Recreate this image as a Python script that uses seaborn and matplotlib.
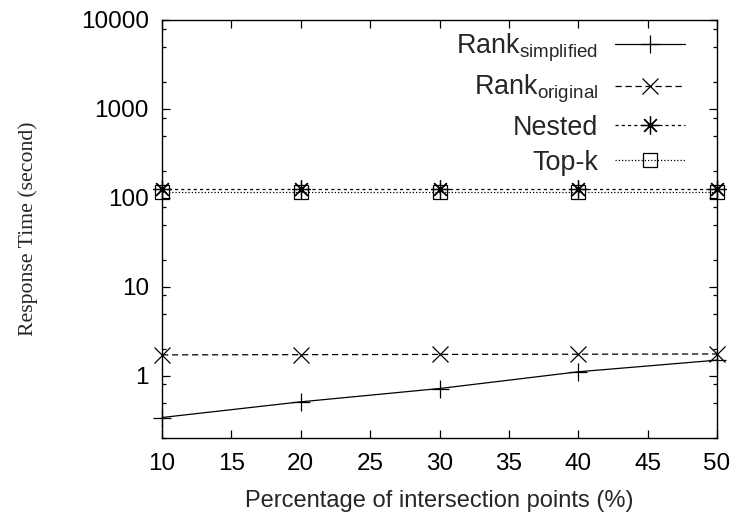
import matplotlib
matplotlib.use("Agg")
import matplotlib.pyplot as plt
from matplotlib.ticker import LogLocator, FixedLocator, FixedFormatter, NullFormatter
import seaborn as sns
import pandas as pd

# ---- data ----
x_pct = [10, 20, 30, 40, 50]
rank_simplified = [0.34, 0.51, 0.72, 1.11, 1.50]
rank_original = [1.72, 1.73, 1.74, 1.75, 1.76]
nested = [127, 127, 127, 127, 127]
topk = [116, 116, 116, 116, 116]
series_names = [r"Rank$_{\mathrm{simplified}}$", r"Rank$_{\mathrm{original}}$", "Nested", "Top-k"]
x_ticks = [10, 15, 20, 25, 30, 35, 40, 45, 50]
y_ticks = [1, 10, 100, 1000, 10000]
y_tick_labels = ["1", "10", "100", "1000", "10000"]

sns.set_theme(style="ticks")
plt.rcParams["font.family"] = ["Liberation Sans", "DejaVu Sans"]
plt.rcParams["mathtext.fontset"] = "custom"
plt.rcParams["mathtext.rm"] = "Liberation Sans"
plt.rcParams["mathtext.it"] = "Liberation Sans:italic"

fig = plt.figure(figsize=(7.39, 5.23), dpi=100)
ax = fig.add_axes([162 / 739, 1 - 438 / 523, (717 - 162) / 739, (438 - 20) / 523])

styles = [
    dict(marker="+", linestyle="-", ms=13, mew=0.9),
    dict(marker="x", linestyle=(0, (5, 3)), ms=11, mew=0.9),
    dict(marker=(8, 2, 0), linestyle=(0, (2.5, 2.5)), ms=13, mew=0.9),
    dict(marker="s", linestyle=(0, (1, 1.6)), ms=10, mew=0.9, mfc="none"),
]
all_series = [rank_simplified, rank_original, nested, topk]
for name, vals, st in zip(series_names, all_series, styles):
    df = pd.DataFrame({"x": x_pct, "y": vals})
    sns.lineplot(data=df, x="x", y="y", ax=ax, color="black", lw=0.9,
                 label=name, mec="black", clip_on=False, **st)

ax.set_yscale("log")
ax.set_xlim(10, 50)
ax.set_ylim(0.2, 10000)
ax.xaxis.set_major_locator(FixedLocator(x_ticks))
ax.yaxis.set_major_locator(FixedLocator(y_ticks))
ax.yaxis.set_major_formatter(FixedFormatter(y_tick_labels))
ax.yaxis.set_minor_locator(LogLocator(base=10, subs=[2, 5, 8]))
ax.yaxis.set_minor_formatter(NullFormatter())

for sp in ax.spines.values():
    sp.set_linewidth(1.0)
    sp.set_color("black")
    sp.set_visible(True)
ax.tick_params(which="both", direction="in", top=True, right=True,
               labelsize=17.5, colors="black", width=0.9)
ax.tick_params(which="major", length=6)
ax.tick_params(which="minor", length=3)
ax.tick_params(axis="x", which="major", pad=10.5)
ax.tick_params(axis="y", which="major", pad=9.5)

ax.set_xlabel("Percentage of intersection points (%)", fontsize=17, labelpad=11)
ax.set_ylabel("Response Time (second)", fontsize=15.7, labelpad=30.5,
              family=["Liberation Serif", "DejaVu Serif"])

leg = ax.legend(loc="upper right", bbox_to_anchor=((685 - 162) / 555, 0.972),
                frameon=False, markerfirst=False, fontsize=19.4, handlelength=2.6,
                handletextpad=0.62, labelspacing=0.34, borderpad=0, borderaxespad=0)

fig.savefig("out.png", dpi=100)
